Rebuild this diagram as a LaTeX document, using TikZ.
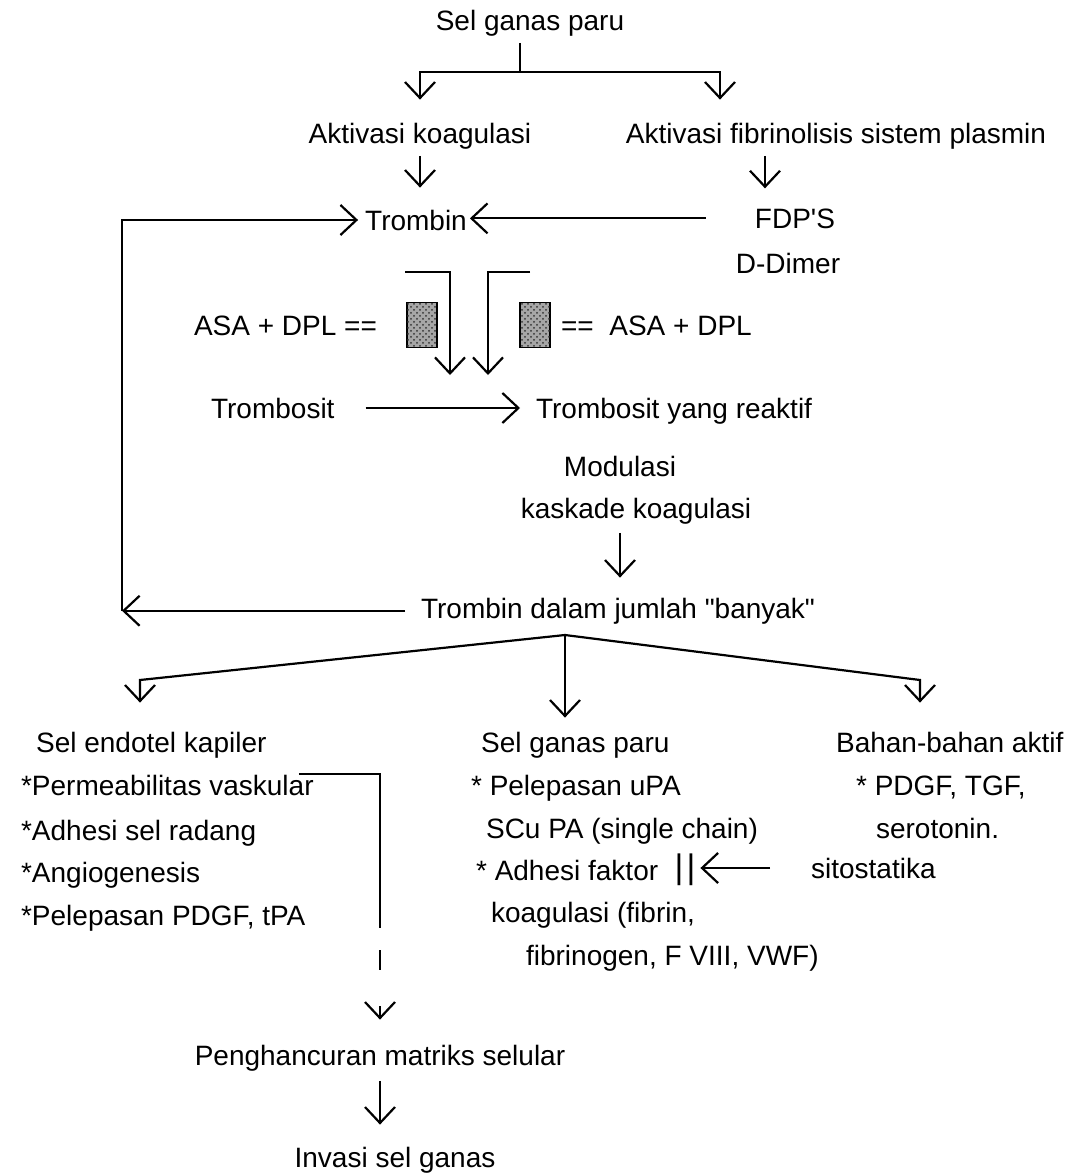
\documentclass[tikz,border=0pt]{standalone}
\usepackage{fontspec}
\setmainfont{Liberation Sans}
\usetikzlibrary{arrows.meta,positioning,patterns}
\tikzset{
  lbl/.style={inner sep=0pt, font=\fontsize{14}{17}\selectfont},
  arr/.style={-{Straight Barb[length=8pt,width=15pt,line width=1.1pt]}},
  blok/.style={draw, line width=0.8pt, fill=gray!70, postaction={pattern=crosshatch dots, pattern color=black!80},
    minimum width=15pt, minimum height=22.5pt, inner sep=0pt}
}
\begin{document}
\begin{tikzpicture}[x=0.5pt, y=-0.5pt, line width=1.1pt]
  \useasboundingbox (0,0) rectangle (1070,1174);
  % atas
  \node[lbl, anchor=base] (paru) at (530,30) {Sel ganas paru};
  \node[lbl, anchor=base] (koag) at (420,143) {Aktivasi koagulasi};
  \node[lbl, anchor=base] (fibr) at (836,143) {Aktivasi fibrinolisis sistem plasmin};
  \node[lbl, anchor=base] (trb) at (416,230) {Trombin};
  \node[lbl, anchor=base] (fdp) at (795,228) {FDP\textquotesingle S};
  \node[lbl, anchor=base] (dd) at (788,273) {D-Dimer};
  \node[lbl, anchor=base east] (asaL) at (378,335) {ASA + DPL ==};
  \node[lbl, anchor=base west] (asaR) at (560,335) {==\ \ ASA + DPL};
  \node[blok] (boxL) at (422,325) {};
  \node[blok] (boxR) at (535,325) {};
  \node[lbl, anchor=base west] (tbs) at (210,418) {Trombosit};
  \node[lbl, anchor=base west] (rkt) at (535,418) {Trombosit yang reaktif};
  \node[lbl, anchor=base] (mod) at (620,476) {Modulasi};
  \node[lbl, anchor=base] (kas) at (636,518) {kaskade koagulasi};
  \node[lbl, anchor=base west] (byk) at (420,618) {Trombin dalam jumlah \textquotedbl banyak\textquotedbl};
  \coordinate (split) at (520,72);
  \draw[shorten <=3pt] ([xshift=-5pt]paru.south) -- (split);
  \draw[arr, shorten >=11pt] (split) -| (koag.north);
  \draw[arr, shorten >=11pt] (split) -| ([xshift=-58pt]fibr.north);
  \draw[arr, shorten <=3pt, shorten >=10.5pt] (koag.south) -- (koag.south |- trb.north);
  \draw[arr, shorten <=3pt, shorten >=9.5pt] ([xshift=-15pt]fdp.north |- fibr.south) -- ([xshift=-15pt]fdp.north);
  \draw[arr, shorten <=24pt, shorten >=1pt] (fdp.west) -- (fdp.west -| trb.east);
  \coordinate (hL) at (405,272);
  \coordinate (tipL) at (450,375);
  \coordinate (hR) at (530,272);
  \coordinate (tipR) at (488,375);
  \draw[arr] (hL) -| (tipL);
  \draw[arr] (hR) -| (tipR);
  \draw[arr, shorten <=15pt, shorten >=7.5pt] (tbs.east) -- (tbs.east -| rkt.west);
  \draw[arr, shorten <=4pt, shorten >=9.5pt] (kas.south -| mod.south) -- (byk.north -| mod.south);
  % umpan balik
  \coordinate (loopB) at ([xshift=-149pt]byk.west);
  \draw[arr, shorten <=7.5pt] (byk.west) -- (loopB);
  \draw[arr, shorten >=3pt] (loopB) |- (trb.west);
  % tiga cabang
  \node[lbl, anchor=base west] (c1) at (35,752) {Sel endotel kapiler};
  \node[lbl, anchor=base west] (c1a) at (20,795) {*Permeabilitas vaskular};
  \node[lbl, anchor=base west] (c1b) at (20,840) {*Adhesi sel radang};
  \node[lbl, anchor=base west] (c1c) at (20,882) {*Angiogenesis};
  \node[lbl, anchor=base west] (c1d) at (20,925) {*Pelepasan PDGF, tPA};
  \node[lbl, anchor=base west] (c2) at (480,752) {Sel ganas paru};
  \node[lbl, anchor=base west] (c2a) at (470,795) {* Pelepasan uPA};
  \node[lbl, anchor=base west] (c2b) at (485,838) {SCu PA (single chain)};
  \node[lbl, anchor=base west] (c2c) at (475,880) {* Adhesi faktor};
  \node[lbl, anchor=base west] (c2d) at (490,922) {koagulasi (fibrin,};
  \node[lbl, anchor=base west] (c2e) at (525,965) {fibrinogen, F VIII, VWF)};
  \node[lbl, anchor=base west] (c3) at (835,752) {Bahan-bahan aktif};
  \node[lbl, anchor=base west] (c3a) at (855,795) {* PDGF, TGF,};
  \node[lbl, anchor=base west] (c3b) at (875,838) {serotonin.};
  \node[lbl, anchor=base west] (sito) at (810,878) {sitostatika};
  \node[lbl, anchor=base, font=\fontsize{17}{17}\selectfont] (stop) at (685,878) {|\kern1.5pt|};
  \coordinate (fork) at (565,635);
  \coordinate (fL) at (140,680);
  \coordinate (fR) at (920,680);
  \draw[arr, shorten >=14pt] (fork) -- (fL) -- (fL |- c1.north);
  \draw[arr, shorten >=6.5pt] (fork) -- (fork |- c2.north);
  \draw[arr, shorten >=14pt] (fork) -- (fR) -- (fR |- c3.north);
  \draw[arr, shorten <=20pt, shorten >=2pt] (sito.west) -- (sito.west -| stop.east);
  % bawah
  \node[lbl, anchor=base] (peng) at (380,1065) {Penghancuran matriks selular};
  \node[lbl, anchor=base] (inv) at (395,1167) {Invasi sel ganas};
  \coordinate (brk) at (380,928);
  \coordinate (dA) at (380,950);
  \coordinate (dB) at (380,970);
  \coordinate (vA) at (380,1006);
  \draw ([xshift=-8pt]c1a.north east) -| (brk);
  \draw (dA) -- (dB);
  \draw[arr, shorten >=12pt] (vA) -- (peng.north -| vA);
  \draw[arr, shorten <=4.5pt, shorten >=10.5pt] (peng.south -| vA) -- (inv.north -| vA);
\end{tikzpicture}
\end{document}
